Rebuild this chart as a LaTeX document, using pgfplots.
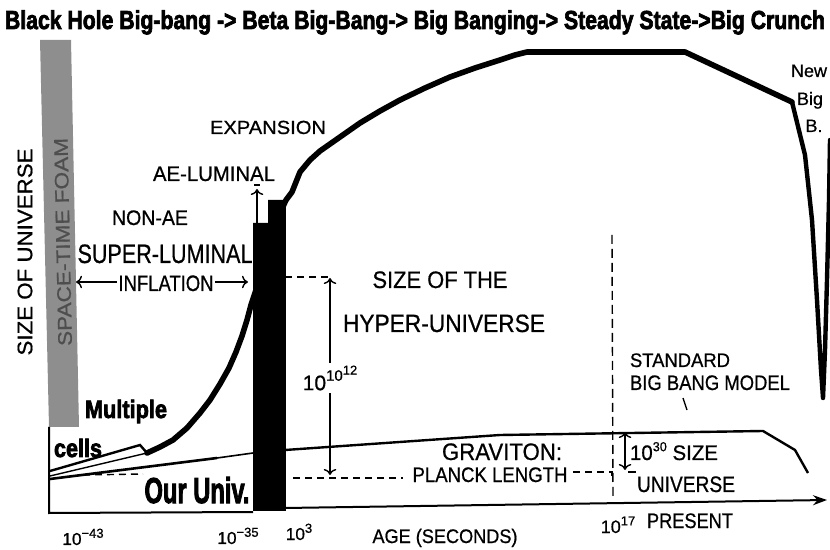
\documentclass[border=0pt]{standalone}
\usepackage{fontspec}
\setmainfont{Liberation Sans}[FakeBold=0.7]
\newfontfamily\heavy{Liberation Sans Bold}[FakeBold=3]
\usepackage{graphicx}
\usepackage{pgfplots}
\pgfplotsset{compat=1.18}
\usetikzlibrary{arrows.meta}
\definecolor{foam}{RGB}{142,142,142}
\definecolor{foamtxt}{RGB}{78,78,78}
\newcommand{\fs}[1]{\fontsize{#1}{#1}\selectfont}
\newcommand{\fw}[2]{\resizebox{#1}{\height}{#2}}
\newcommand{\sps}[1]{\raisebox{0.42em}{\fs{6.5}#1}}
\begin{document}
\begin{tikzpicture}
\begin{axis}[
  scale only axis, width=415pt, height=275pt,
  xmin=0, xmax=830, ymin=0, ymax=550, y dir=reverse,
  hide axis, clip=false,
  every node/.style={inner sep=0pt},
]
% space-time foam bar
\addplot[fill=foam, draw=none] coordinates {(40,40) (71,40) (79,427) (49,427)} -- cycle;
% black bar
\addplot[fill=black, draw=black] coordinates {(253,510) (253,223) (268,223) (268,200) (285,200) (285,510)} -- cycle;
% main curve
\addplot[line width=2.8pt, line join=round, line cap=round] coordinates {
(147,453) (160,447) (173,440) (187,428) (200,413) (210,400) (220,384) (229,368)
(236,352) (242,336) (247,320) (251,305) (256,290) (261,272) (266,256) (271,240)
(276,225) (281,211) (286,200) (292,192) (300,172) (310,160) (320,151) (340,137)
(360,123) (380,111) (400,100) (425,88) (450,77) (475,68) (500,60) (515,55)
(527,52) (685,52) (792,102)};
\addplot[line width=2.2pt, line join=round, line cap=round] coordinates {
(792,102) (805,155) (812,220) (817,300) (821,370) (823,398) (825,350) (827,280) (829,200) (830,140)};
% graviton line
\addplot[line width=1.2pt] coordinates {(285,450) (500,435) (763,431) (795,450) (808,473)};
\addplot[line width=1.3pt] coordinates {(50,479) (217,458)};
\addplot[line width=0.8pt] coordinates {(217,458) (253,453)};
% multiple cells wedge
\addplot[line width=1.2pt] coordinates {(50,471) (140,445) (147,453)};
\addplot[line width=0.7pt] coordinates {(50,476) (147,453)};
% axes
\addplot[line width=1pt] coordinates {(49,427) (49,513) (253,512)};
\addplot[line width=1pt, -{Stealth[length=7pt,width=5pt]}] coordinates {(285,508) (827,500)};
% dashed guides
\addplot[line width=0.7pt, dash pattern=on 3.5pt off 2.5pt] coordinates {(83,475) (143,474)};
\addplot[line width=0.7pt, dash pattern=on 3.5pt off 2.5pt] coordinates {(285,277) (330,277)};
\addplot[line width=0.7pt, dash pattern=on 3.5pt off 2.5pt] coordinates {(293,478) (403,478)};
\addplot[line width=0.7pt, dash pattern=on 3.5pt off 2.5pt] coordinates {(573,472) (612,472) (612,478)};
\addplot[line width=0.7pt, dash pattern=on 4.5pt off 2.5pt] coordinates {(612,235) (613,500)};
% arrows
\addplot[line width=0.7pt, -{To[length=3pt]}] coordinates {(117,282) (76,282)};
\addplot[line width=0.7pt, -{To[length=3pt]}] coordinates {(215,282) (248,282)};
\addplot[line width=0.7pt, -{To[length=3pt]}] coordinates {(257,223) (257,189)};
\addplot[line width=0.7pt] coordinates {(254,185) (260,185)};
\addplot[line width=0.7pt, {To[length=3pt]}-{To[length=3pt]}] coordinates {(330,278) (330,475)};
\addplot[line width=0.7pt, {To[length=3pt]}-{To[length=3pt]}] coordinates {(625,432) (625,470)};
\addplot[line width=0.7pt] coordinates {(628,472) (636,472)};
\addplot[line width=0.7pt] coordinates {(683,398) (687,410)};
% texts
\node[anchor=base] at (415,29) {\fw{410pt}{\heavy\fs{13}Black Hole Big-bang -> Beta Big-Bang-> Big Banging-> Steady State->Big Crunch}};
\node[rotate=90] at (25,252) {\fw{103.5pt}{\fs{10.5}SIZE OF UNIVERSE}};
\node[rotate=91.2, text=foamtxt] at (63,242) {\fw{104pt}{\fs{9.8}SPACE-TIME FOAM}};
\node[anchor=base] at (268,134) {\fw{58pt}{\fs{9.5}EXPANSION}};
\node[anchor=base] at (214,181) {\fw{61pt}{\fs{10.5}AE-LUMINAL}};
\node[anchor=base] at (150,225) {\fw{38pt}{\fs{10.5}NON-AE}};
\node[anchor=base] at (165,263) {\fw{87.5pt}{\fs{13.3}SUPER-LUMINAL}};
\node[anchor=base] at (166,291) {\fw{47.5pt}{\fs{11.2}INFLATION}};
\node[anchor=base] at (440,288) {\fw{67.5pt}{\fs{11.9}SIZE OF THE}};
\node[anchor=base] at (444,332) {\fw{101pt}{\fs{12.5}HYPER-UNIVERSE}};
\node[fill=white, inner sep=1.5pt] at (330,378) {\fs{10.5}10\raisebox{0.45em}{\fs{7.5}10\raisebox{0.4em}{\fs{6.5}12}}};
\node[anchor=base] at (680,367) {\fw{50pt}{\fs{9.8}STANDARD}};
\node[anchor=base] at (710,390) {\fw{80pt}{\fs{10.5}BIG BANG MODEL}};
\node[anchor=base] at (502,460) {\fw{60pt}{\fs{11.9}GRAVITON:}};
\node[anchor=base] at (490,482) {\fw{77.5pt}{\fs{10.5}PLANCK LENGTH}};
\node[anchor=base] at (674,460) {\fw{44pt}{\fs{10.5}10\sps{30} SIZE}};
\node[anchor=base] at (686,492) {\fw{49pt}{\fs{11.2}UNIVERSE}};
\node[anchor=base] at (126,418) {\fw{41pt}{\heavy\fs{12.6}Multiple}};
\node[anchor=base] at (78,457) {\fw{24pt}{\heavy\fs{12.6}cells}};
\node[anchor=base] at (197,503) {\fw{52.5pt}{\heavy\fs{18}Our Univ.}};
\node[anchor=base] at (809,77) {\fs{9}New};
\node[anchor=base] at (810,105) {\fs{9}Big};
\node[anchor=base] at (814,132) {\fs{9}B.};
\node[anchor=base] at (83,545) {\fs{8.6}10\sps{−43}};
\node[anchor=base] at (238,544) {\fs{8.6}10\sps{−35}};
\node[anchor=base] at (299,540) {\fs{8.6}10\sps{3}};
\node[anchor=base] at (445,543) {\fw{72.5pt}{\fs{9.8}AGE (SECONDS)}};
\node[anchor=base] at (618,533) {\fs{9}10\sps{17}};
\node[anchor=base] at (690,528) {\fw{43pt}{\fs{10.5}PRESENT}};
\end{axis}
\pgfresetboundingbox
\path[use as bounding box] (current axis.south west) rectangle (current axis.north east);
\end{tikzpicture}
\end{document}
